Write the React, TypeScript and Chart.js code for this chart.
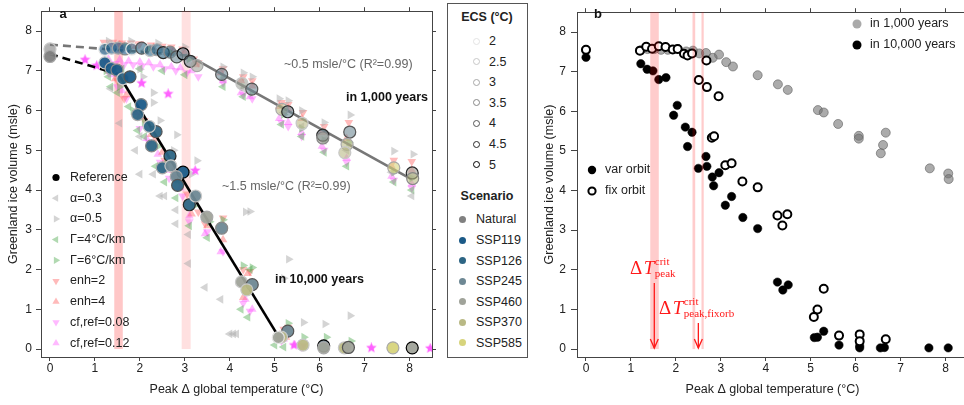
import React, { useEffect, useRef } from 'react';
import { Chart, registerables } from 'chart.js';

Chart.register(...registerables);

const FONT = '"Liberation Sans", Arial, Helvetica, sans-serif';
const SERIF = '"Liberation Serif", "DejaVu Serif", serif';

// ---------- axes ----------
const X_TICKS = [0, 1, 2, 3, 4, 5, 6, 7, 8];
const Y_TICKS = [0, 1, 2, 3, 4, 5, 6, 7, 8];
const X_TITLE = 'Peak Δ global temperature (°C)';
const Y_TITLE = 'Greenland ice volume (msle)';

// ---------- legend categories ----------
const SCENARIOS = ['Natural', 'SSP119', 'SSP126', 'SSP245', 'SSP460', 'SSP370', 'SSP585'];
const SCENARIO_COLORS = ['#808080', '#1b5a87', '#2d6584', '#6e8894', '#a0a39a', '#b9b985', '#d7d47c'];
const ECS_VALUES = ['2', '2.5', '3', '3.5', '4', '4.5', '5'];
const ECS_EDGE_COLORS = ['#e4e4e4', '#c8c8c8', '#a8a8a8', '#888888', '#555555', '#2a2a2a', '#000000'];
const SENS_LABELS = ['Reference', 'α=0.3', 'α=0.5', 'Γ=4°C/km', 'Γ=6°C/km', 'enh=2', 'enh=4', 'cf,ref=0.08', 'cf,ref=0.12'];

// ---------- reference runs: [peak warming, ice volume, scenario idx, ECS idx] ----------
const RUNS_1000Y: [number, number, number, number][] = [
  [0, 7.55, 0, 1], [1.22, 7.54, 1, 0], [1.37, 7.57, 1, 1], [1.52, 7.57, 1, 2], [1.67, 7.55, 1, 3],
  [1.82, 7.55, 2, 0], [2.04, 7.57, 2, 4], [2.23, 7.51, 2, 1], [2.38, 7.53, 2, 2], [2.52, 7.46, 2, 5],
  [2.67, 7.47, 2, 3], [2.82, 7.35, 3, 4], [2.96, 7.43, 3, 6], [3.12, 7.24, 3, 5], [3.27, 7.13, 4, 2],
  [3.82, 6.91, 3, 4], [4.27, 6.68, 4, 1], [4.49, 6.54, 3, 4], [5.16, 6.03, 5, 2], [5.29, 5.97, 3, 5],
  [5.61, 5.68, 5, 1], [6.07, 5.38, 3, 5], [6.07, 5.31, 4, 3], [6.67, 5.46, 3, 4], [6.61, 5.15, 5, 2],
  [6.56, 4.94, 5, 1], [7.65, 4.56, 6, 2], [8.06, 4.43, 4, 5], [8.07, 4.29, 5, 3],
];
const RUNS_10000Y: [number, number, number, number][] = [
  [0, 7.36, 0, 2], [1.22, 7.20, 1, 1], [1.36, 7.06, 1, 2], [1.49, 7.02, 1, 3], [1.62, 6.80, 2, 1],
  [1.78, 6.85, 1, 4], [2.03, 6.15, 1, 3], [1.95, 5.90, 2, 2], [2.36, 5.47, 2, 4], [2.21, 5.60, 2, 1],
  [2.26, 5.11, 2, 3], [2.67, 4.86, 2, 5], [2.50, 4.56, 2, 2], [2.69, 4.61, 3, 1], [2.96, 4.45, 1, 6],
  [2.81, 4.34, 3, 2], [2.84, 4.12, 2, 4], [3.10, 3.63, 2, 5], [3.24, 3.85, 3, 1], [3.49, 3.32, 4, 2],
  [3.82, 3.04, 3, 3], [4.26, 1.69, 4, 1], [4.50, 1.62, 3, 4], [4.38, 1.49, 5, 1], [5.29, 0.45, 3, 4],
  [5.15, 0.30, 5, 1], [5.08, 0.29, 4, 0], [5.63, 0.10, 5, 1], [6.09, 0.08, 3, 6], [6.09, 0.03, 4, 2],
  [6.55, 0.03, 5, 1], [6.64, 0.04, 4, 4], [7.63, 0.03, 6, 2], [8.06, 0.03, 4, 6],
];
// fixed-orbit runs after 10,000 years (panel b)
const FIXORB_10000Y: [number, number][] = [
  [0, 7.55], [1.20, 7.53], [1.34, 7.63], [1.47, 7.58], [1.62, 7.64], [1.77, 7.62], [1.93, 7.56],
  [2.04, 7.57], [2.18, 7.45], [2.26, 7.41], [2.36, 7.46], [2.68, 7.28], [2.51, 6.79], [2.69, 6.61],
  [2.95, 6.38], [2.80, 5.33], [2.85, 5.37], [3.10, 4.64], [3.24, 4.69], [3.48, 4.23], [3.82, 4.08],
  [4.26, 3.37], [4.48, 3.40], [4.37, 3.12], [5.29, 1.52], [5.15, 1.00], [5.07, 0.81], [5.63, 0.34],
  [6.09, 0.37], [6.09, 0.20], [6.67, 0.25],
];

// ---------- sensitivity experiments (panel a) ----------
const ALPHA_03: [number, number][] = [
  [1.35, 6.55], [1.55, 5.68], [2.0, 5.35], [2.0, 4.4], [2.45, 3.85], [2.55, 3.85], [2.8, 3.5], [2.8, 3.15],
  [3.08, 2.88], [3.08, 2.15], [3.45, 1.55], [3.8, 1.25], [4.0, 0.38], [4.08, 0.38], [4.15, 0.38], [1.9, 5.0],
  [2.3, 4.4], [1.2, 7.5], [1.6, 7.55], [2.1, 7.5], [2.6, 7.42], [3.0, 7.35], [3.85, 6.8], [4.3, 6.55],
  [5.2, 5.95], [5.6, 5.6], [6.1, 5.25], [6.6, 5.0], [7.6, 4.45], [8.05, 3.85],
];
const ALPHA_05: [number, number][] = [
  [2.0, 7.04], [2.07, 6.85], [2.3, 6.45], [2.3, 6.2], [2.45, 5.75], [2.82, 5.39], [2.75, 5.0], [3.27, 4.74],
  [3.15, 4.4], [4.35, 3.45], [4.45, 3.46], [5.31, 2.26], [5.2, 1.78], [5.64, 0.67], [6.12, 0.63], [6.68, 0.84],
  [1.3, 7.75], [1.8, 7.75], [2.4, 7.7], [3.0, 7.6], [3.85, 7.1], [4.3, 6.95], [4.5, 6.85], [5.1, 6.3],
  [5.3, 6.25], [5.6, 6.0], [6.1, 5.7], [6.68, 5.89], [7.65, 4.98], [8.08, 4.9],
];
const GAMMA_4: [number, number][] = [
  [1.3, 6.85], [1.35, 6.6], [1.5, 6.45], [1.75, 6.1], [1.95, 5.5], [2.1, 5.35], [2.35, 4.6], [2.55, 4.2],
  [2.8, 3.8], [3.1, 3.1], [3.5, 2.8], [4.25, 1.0], [4.4, 0.8], [4.45, 2.0], [5.0, 0.1], [5.2, 0.05],
  [1.3, 7.0], [1.6, 7.05], [2.0, 7.05], [2.5, 7.0], [3.0, 6.9], [3.85, 6.6], [4.3, 6.35], [5.15, 5.65],
  [5.6, 5.35], [6.1, 4.95], [6.6, 4.6], [7.65, 4.2], [8.05, 4.0],
];
const GAMMA_6: [number, number][] = [
  [1.25, 7.0], [1.55, 6.6], [1.85, 6.0], [2.1, 5.7], [2.4, 5.1], [2.6, 4.7], [2.9, 4.25], [3.2, 3.6],
  [3.55, 3.2], [3.85, 3.25], [4.3, 2.1], [4.5, 2.05], [5.3, 0.65], [5.65, 0.3], [6.15, 0.3], [6.7, 0.2],
  [1.25, 7.6], [1.7, 7.6], [2.2, 7.55], [2.7, 7.45], [3.1, 7.3], [3.85, 6.85], [4.3, 6.6], [4.5, 6.45],
  [5.2, 5.9], [5.6, 5.55], [6.1, 5.25], [6.65, 5.2], [7.65, 4.45], [8.05, 4.3],
];
const ENH_2: [number, number][] = [
  [1.25, 7.05], [1.5, 6.75], [1.65, 6.3], [2.1, 5.75], [2.35, 5.3], [2.55, 4.75], [2.8, 4.35], [3.05, 3.9],
  [3.3, 3.45], [3.45, 3.15], [3.85, 3.3], [4.3, 2.0], [4.45, 1.95], [5.3, 0.55], [5.2, 0.5], [5.65, 0.1],
  [6.1, 0.05], [6.6, 0.03], [1.2, 7.72], [1.4, 7.72], [1.6, 7.7], [1.8, 7.7], [2.0, 7.68], [2.25, 7.65],
  [2.5, 7.62], [2.7, 7.6], [2.95, 7.55], [3.2, 7.3], [3.3, 7.2], [3.85, 7.05], [4.3, 6.85], [4.5, 6.75],
  [5.15, 6.2], [5.3, 6.15], [5.63, 5.95], [6.1, 5.6], [6.65, 5.7], [7.65, 4.75], [8.05, 4.72],
];
const ENH_4: [number, number][] = [
  [1.45, 6.8], [1.7, 6.4], [2.0, 5.85], [2.25, 5.4], [2.5, 4.95], [2.75, 4.5], [2.95, 4.2], [3.15, 3.4],
  [3.5, 3.1], [3.85, 2.75], [4.3, 1.3], [4.4, 1.9], [5.25, 0.3], [5.1, 0.35], [1.3, 7.65], [1.55, 7.65],
  [1.9, 7.62], [2.3, 7.58], [2.75, 7.5], [3.0, 7.45], [3.25, 7.15], [3.8, 6.95], [4.25, 6.75], [4.5, 6.62],
  [5.1, 6.1], [5.3, 6.05], [5.6, 5.8], [6.05, 5.45], [6.6, 5.3], [7.6, 4.6], [8.05, 4.5],
];
const CF_008: [number, number][] = [
  [1.3, 6.95], [1.5, 6.6], [1.7, 6.3], [2.0, 5.55], [2.2, 5.2], [2.45, 4.7], [2.65, 4.3], [2.95, 3.85],
  [3.1, 3.2], [3.5, 2.95], [3.85, 2.45], [4.3, 1.15], [4.45, 0.95], [5.15, 0.2], [5.6, 0.05], [1.25, 7.2],
  [1.45, 7.18], [1.65, 7.15], [1.85, 7.15], [2.05, 7.12], [2.3, 7.1], [2.55, 7.05], [2.8, 7.0], [3.05, 6.95],
  [3.3, 6.85], [3.85, 6.7], [4.3, 6.4], [4.5, 6.3], [5.15, 5.7], [5.3, 5.6], [5.6, 5.35], [6.1, 5.0],
  [6.6, 4.7], [7.65, 4.25], [8.05, 4.05],
];
const CF_012: [number, number][] = [
  [1.4, 6.9], [1.6, 6.5], [1.9, 5.95], [2.15, 5.3], [2.4, 4.9], [2.6, 4.5], [2.9, 4.05], [3.1, 3.35],
  [3.45, 2.9], [3.8, 2.45], [4.35, 1.25], [4.5, 1.0], [5.2, 0.25], [5.45, 0.1], [1.3, 7.3], [1.55, 7.28],
  [1.75, 7.25], [2.0, 7.22], [2.2, 7.2], [2.45, 7.15], [2.7, 7.1], [2.9, 7.08], [3.15, 7.0], [3.85, 6.75],
  [4.25, 6.45], [4.45, 6.35], [5.1, 5.8], [5.3, 5.7], [5.6, 5.45], [6.05, 5.1], [6.6, 4.8], [7.6, 4.35],
  [8.05, 4.15],
];
const STAR_RUNS: [number, number][] = [
  [0.78, 7.28], [1.04, 7.13], [2.04, 6.69], [2.63, 6.42], [3.23, 4.49], [5.43, 0.10], [7.15, 0.03], [8.46, 0.02],
];

// ---------- fits & thresholds ----------
const FIT_1000Y_DASHED: [number, number][] = [[0, 7.66], [3.08, 7.38]];
const FIT_1000Y_SOLID: [number, number][] = [[3.08, 7.38], [8.05, 4.27]];
const FIT_10000Y_DASHED: [number, number][] = [[0, 7.42], [1.52, 6.92]];
const FIT_10000Y_SOLID: [number, number][] = [[1.52, 6.92], [5.12, 0.25]];
const BANDS_A: [number, number][] = [[1.43, 1.62], [2.93, 3.13]];
const BANDS_B: [number, number][] = [[1.43, 1.62], [2.37, 2.43], [2.57, 2.62]];
const CRIT_ARROWS: [number, number][] = [[1.52, 1.67], [2.5, 0.66]];

// ---------- helpers ----------
const pts = (arr: [number, number][]) => arr.map(([x, y]) => ({ x, y }));
const hexA = (hex: string, a: number) => {
  const n = parseInt(hex.slice(1), 16);
  return `rgba(${n >> 16},${(n >> 8) & 255},${n & 255},${a})`;
};

const GRAY_T = 'rgba(170,170,170,0.5)';
const GREEN_T = 'rgba(70,165,70,0.42)';
const RED_T = 'rgba(255,90,90,0.42)';
const MAG_T = 'rgba(255,70,255,0.38)';

function makeStar(size: number, color: string) {
  const c = document.createElement('canvas');
  c.width = size; c.height = size;
  const ctx = c.getContext('2d')!;
  ctx.fillStyle = color;
  ctx.beginPath();
  const R = size / 2, r = R * 0.45;
  for (let i = 0; i < 10; i++) {
    const ang = -Math.PI / 2 + (i * Math.PI) / 5;
    const rad = i % 2 ? r : R;
    ctx.lineTo(R + Math.cos(ang) * rad, R + Math.sin(ang) * rad);
  }
  ctx.closePath();
  ctx.fill();
  return c;
}

function tri(ctx: CanvasRenderingContext2D, x: number, y: number, r: number, rotDeg: number, color: string) {
  const a = (rotDeg * Math.PI) / 180;
  ctx.beginPath();
  for (let k = 0; k < 3; k++) {
    const t = a + (k * 2 * Math.PI) / 3;
    ctx.lineTo(x + Math.sin(t) * r, y - Math.cos(t) * r);
  }
  ctx.closePath();
  ctx.fillStyle = color;
  ctx.fill();
}

function makeScales(yWidth: number, yTickLen: number, yPad: number, yTitlePad: number) {
  const setX = (s: any) => { s.ticks = X_TICKS.map((v) => ({ value: v })); };
  const setY = (s: any) => { s.ticks = Y_TICKS.map((v) => ({ value: v })); };
  const grid = { drawOnChartArea: false, color: '#444', tickColor: '#444', lineWidth: 1 };
  const border = { display: true, color: '#444', width: 1 };
  const tickFont = { family: FONT, size: 12 };
  return {
    x: {
      type: 'linear', position: 'bottom', min: -0.2, max: 8.5,
      afterBuildTicks: setX, afterFit: (s: any) => { s.height = 48; },
      grid: { ...grid, tickLength: 4 }, border,
      ticks: { color: '#222', font: tickFont, padding: 0, maxRotation: 0, autoSkip: false },
      title: { display: true, text: X_TITLE, color: '#222', font: { family: FONT, size: 12.5 }, padding: { top: 0, bottom: 8 } },
    },
    xTop: {
      type: 'linear', position: 'top', min: -0.2, max: 8.5,
      afterBuildTicks: setX, afterFit: (s: any) => { s.height = 4; },
      grid: { ...grid, tickLength: 4 }, border, ticks: { display: false },
    },
    y: {
      type: 'linear', position: 'left', min: -0.2, max: 8.5,
      afterBuildTicks: setY, afterFit: (s: any) => { s.width = yWidth; },
      grid: { ...grid, tickLength: yTickLen }, border,
      ticks: { color: '#222', font: tickFont, padding: yPad },
      title: { display: true, text: Y_TITLE, color: '#222', font: { family: FONT, size: 12.5 }, padding: { top: yTitlePad, bottom: 0 } },
    },
    yRight: {
      type: 'linear', position: 'right', min: -0.2, max: 8.5,
      afterBuildTicks: setY, afterFit: (s: any) => { s.width = 8; },
      grid: { ...grid, tickLength: 4 }, border, ticks: { display: false },
    },
  };
}

const text = (ctx: CanvasRenderingContext2D, s: string, x: number, y: number, font: string, color: string, align: CanvasTextAlign = 'left') => {
  ctx.font = font;
  ctx.fillStyle = color;
  ctx.textAlign = align;
  ctx.textBaseline = 'middle';
  ctx.fillText(s, x, y);
};

// ---------- panel a ----------
function PanelA() {
  const ref = useRef<HTMLCanvasElement>(null);
  useEffect(() => {
    const star = makeStar(11, 'rgba(255,80,255,0.9)');
    const sens = [
      { data: ALPHA_03, color: GRAY_T, rot: 270 },
      { data: ALPHA_05, color: GRAY_T, rot: 90 },
      { data: GAMMA_4, color: GREEN_T, rot: 270 },
      { data: GAMMA_6, color: GREEN_T, rot: 90 },
      { data: ENH_2, color: RED_T, rot: 180 },
      { data: ENH_4, color: RED_T, rot: 0 },
      { data: CF_008, color: MAG_T, rot: 180 },
      { data: CF_012, color: MAG_T, rot: 0 },
    ];
    const circles = (runs: [number, number, number, number][], alpha: number, order: number) => ({
      data: runs.map((r) => ({ x: r[0], y: r[1] })),
      pointBackgroundColor: runs.map((r) => hexA(SCENARIO_COLORS[r[2]], alpha)),
      pointBorderColor: runs.map((r) => ECS_EDGE_COLORS[r[3]]),
      pointBorderWidth: 1.2, pointRadius: 6, order,
    });
    const line = (d: [number, number][], color: string, dash: number[], order: number) => ({
      data: pts(d), showLine: true, pointRadius: 0, borderColor: color, borderWidth: 2.6, borderDash: dash, order,
    });
    const datasets: any[] = [
      circles(RUNS_10000Y, 0.95, 1),
      circles(RUNS_1000Y, 0.6, 2),
      line(FIT_10000Y_SOLID, '#000', [], 3),
      line(FIT_10000Y_DASHED, '#000', [8, 5], 3),
      line(FIT_1000Y_SOLID, '#777', [], 3),
      line(FIT_1000Y_DASHED, '#777', [8, 5], 3),
      { data: pts(STAR_RUNS), pointStyle: star, pointRadius: 5, order: 4 },
      ...sens.map((s, i) => ({
        data: pts(s.data), pointStyle: 'triangle', pointRotation: s.rot, pointRadius: 5,
        pointBackgroundColor: s.color, pointBorderColor: 'rgba(0,0,0,0)', pointBorderWidth: 0, order: 5 + i,
      })),
    ];

    const plugin = {
      id: 'panelA',
      beforeDatasetsDraw(chart: any) {
        const { ctx, chartArea: ca, scales } = chart;
        const alphas = [0.22, 0.12];
        ctx.save();
        BANDS_A.forEach(([a, b], i) => {
          const x0 = scales.x.getPixelForValue(a), x1 = scales.x.getPixelForValue(b);
          const y0 = scales.y.getPixelForValue(0);
          ctx.fillStyle = `rgba(255,0,0,${alphas[i]})`;
          ctx.fillRect(x0, ca.top, x1 - x0, y0 - ca.top);
        });
        ctx.restore();
      },
      afterDraw(chart: any) {
        const { ctx } = chart;
        ctx.save();
        text(ctx, 'a', 63, 14, `bold 13px ${FONT}`, '#111', 'center');
        text(ctx, '~0.5 msle/°C (R²=0.99)', 284, 65, `12.5px ${FONT}`, '#666');
        text(ctx, 'in 1,000 years', 428, 98, `bold 12.5px ${FONT}`, '#111', 'right');
        text(ctx, '~1.5 msle/°C (R²=0.99)', 222, 187, `12.5px ${FONT}`, '#666');
        text(ctx, 'in 10,000 years', 275, 280, `bold 12.5px ${FONT}`, '#111');
        // legend
        const mx = 56, tx = 70, y0 = 177.5, step = 20.7;
        const markers = [null, [GRAY_T, 270], [GRAY_T, 90], [GREEN_T, 270], [GREEN_T, 90], [RED_T, 180], [RED_T, 0], [MAG_T, 180], [MAG_T, 0]] as any[];
        SENS_LABELS.forEach((lab, i) => {
          const y = y0 + i * step;
          if (i === 0) {
            ctx.beginPath(); ctx.arc(mx, y, 3.6, 0, Math.PI * 2); ctx.fillStyle = '#000'; ctx.fill();
          } else {
            tri(ctx, mx, y, 4.2, markers[i][1], markers[i][0]);
          }
          text(ctx, lab, tx, y, `12.5px ${FONT}`, '#222');
        });
        ctx.restore();
      },
    };

    const chart = new Chart(ref.current!, {
      type: 'scatter',
      data: { datasets },
      options: {
        animation: false, responsive: false, maintainAspectRatio: false, events: [],
        layout: { padding: 0 },
        plugins: { legend: { display: false }, tooltip: { enabled: false } },
        scales: makeScales(41, 5, 4, 6.5) as any,
      },
      plugins: [plugin],
    });
    return () => chart.destroy();
  }, []);
  return <canvas ref={ref} width={440} height={405} style={{ position: 'absolute', left: 0, top: 0, width: 440, height: 405 }} />;
}

// ---------- panel b ----------
function PanelB() {
  const ref = useRef<HTMLCanvasElement>(null);
  useEffect(() => {
    const datasets: any[] = [
      {
        data: pts(FIXORB_10000Y), pointRadius: 4, pointBorderWidth: 2,
        pointBackgroundColor: '#fff', pointBorderColor: '#000', order: 1,
      },
      {
        data: RUNS_10000Y.map((r) => ({ x: r[0], y: r[1] })), pointRadius: 4.2, pointBorderWidth: 0.5,
        pointBackgroundColor: '#000', pointBorderColor: '#000', order: 2,
      },
      {
        data: RUNS_1000Y.map((r) => ({ x: r[0], y: r[1] })), pointRadius: 4.5, pointBorderWidth: 1,
        pointBackgroundColor: 'rgba(115,115,115,0.6)', pointBorderColor: 'rgba(95,95,95,0.6)', order: 3,
      },
    ];
    const plugin = {
      id: 'panelB',
      afterDatasetsDraw(chart: any) {
        const { ctx, chartArea: ca, scales } = chart;
        ctx.save();
        BANDS_B.forEach(([a, b]) => {
          const x0 = scales.x.getPixelForValue(a), x1 = scales.x.getPixelForValue(b);
          const y0 = scales.y.getPixelForValue(0);
          ctx.fillStyle = 'rgba(255,0,0,0.2)';
          ctx.fillRect(x0, ca.top, x1 - x0, y0 - ca.top);
        });
        ctx.restore();
      },
      afterDraw(chart: any) {
        const { ctx, scales } = chart;
        ctx.save();
        text(ctx, 'b', 66, 14, `bold 13px ${FONT}`, '#111', 'center');
        // legend top right
        ctx.beginPath(); ctx.arc(325, 24, 4.5, 0, Math.PI * 2); ctx.fillStyle = '#aaaaaa'; ctx.fill();
        text(ctx, 'in 1,000 years', 338, 24, `12.5px ${FONT}`, '#222');
        ctx.beginPath(); ctx.arc(325, 45, 4.5, 0, Math.PI * 2); ctx.fillStyle = '#000'; ctx.fill();
        text(ctx, 'in 10,000 years', 338, 45, `12.5px ${FONT}`, '#222');
        // legend left
        ctx.beginPath(); ctx.arc(60, 170, 4.2, 0, Math.PI * 2); ctx.fillStyle = '#000'; ctx.fill();
        text(ctx, 'var orbit', 73, 170, `12.5px ${FONT}`, '#222');
        ctx.beginPath(); ctx.arc(60, 191, 3.6, 0, Math.PI * 2); ctx.lineWidth = 2; ctx.strokeStyle = '#000'; ctx.stroke();
        text(ctx, 'fix orbit', 73, 191, `12.5px ${FONT}`, '#222');

        // arrows
        const red = '#ff1a1a';
        ctx.strokeStyle = red; ctx.lineWidth = 1.3;
        CRIT_ARROWS.forEach(([xv, yv]) => {
          const x = scales.x.getPixelForValue(xv);
          const yTop = scales.y.getPixelForValue(yv);
          const yBot = scales.y.getPixelForValue(0) - 1;
          ctx.beginPath(); ctx.moveTo(x, yTop); ctx.lineTo(x, yBot); ctx.stroke();
          ctx.beginPath(); ctx.moveTo(x - 4, yBot - 9); ctx.lineTo(x, yBot); ctx.lineTo(x + 4, yBot - 9); ctx.stroke();
        });
        // math labels
        const mathLabel = (x0: number, base: number, sub: string) => {
          ctx.textAlign = 'left'; ctx.textBaseline = 'alphabetic'; ctx.fillStyle = red;
          ctx.font = `19px ${SERIF}`;
          ctx.fillText('Δ', x0, base);
          const w1 = ctx.measureText('Δ').width;
          ctx.font = `italic 19px ${SERIF}`;
          ctx.fillText('T', x0 + w1 + 1.5, base);
          const w2 = ctx.measureText('T').width;
          const sx = x0 + w1 + 1.5 + w2 + 0.5;
          ctx.font = `11px ${SERIF}`;
          ctx.fillText('crit', sx, base - 9);
          ctx.fillText(sub, sx, base + 3);
        };
        mathLabel(630 - 532, 274, 'peak');
        mathLabel(659 - 532, 314, 'peak,fixorb');
        ctx.restore();
      },
    };
    const chart = new Chart(ref.current!, {
      type: 'scatter',
      data: { datasets },
      options: {
        animation: false, responsive: false, maintainAspectRatio: false, events: [],
        layout: { padding: 0 },
        plugins: { legend: { display: false }, tooltip: { enabled: false } },
        scales: makeScales(45, 6, 5, 10) as any,
      },
      plugins: [plugin],
    });
    return () => chart.destroy();
  }, []);
  return <canvas ref={ref} width={444} height={405} style={{ position: 'absolute', left: 532, top: 0, width: 444, height: 405 }} />;
}

// ---------- middle legend ----------
function MiddleLegend() {
  const L = 448, T = 4;
  const lh = 16;
  const ecsY = [41, 61.7, 82.3, 102.7, 123.3, 144, 164.7];
  const scY = [219, 240, 260.7, 281, 301.7, 322.3, 342.7];
  const txt = (s: string, x: number, y: number, bold = false, center = false) => (
    <div key={s + y} style={{
      position: 'absolute', left: center ? 0 : x - L, width: center ? 78 : undefined, top: y - T - lh / 2,
      lineHeight: `${lh}px`, whiteSpace: 'nowrap', textAlign: center ? 'center' : 'left', fontWeight: bold ? 'bold' : 'normal',
    }}>{s}</div>
  );
  return (
    <div style={{
      position: 'absolute', left: 447, top: 3, width: 81, height: 355, border: '1px solid #555', boxSizing: 'border-box',
      fontFamily: FONT, fontSize: 12.5, color: '#222', background: '#fff',
    }}>
      {txt('ECS (°C)', 0, 17, true, true)}
      {ECS_VALUES.map((v, i) => (
        <React.Fragment key={'e' + v}>
          <div style={{
            position: 'absolute', left: 476 - L - 3.5, top: ecsY[i] - T - 3.5, width: 7, height: 7, borderRadius: '50%',
            border: `1.3px solid ${ECS_EDGE_COLORS[i]}`, boxSizing: 'border-box',
          }} />
          {txt(v, 489, ecsY[i])}
        </React.Fragment>
      ))}
      {txt('Scenario', 0, 196, true, true)}
      {SCENARIOS.map((s, i) => (
        <React.Fragment key={s}>
          <div style={{
            position: 'absolute', left: 462 - L - 3.5, top: scY[i] - T - 3.5, width: 7, height: 7, borderRadius: '50%',
            background: SCENARIO_COLORS[i],
          }} />
          {txt(s, 476, scY[i])}
        </React.Fragment>
      ))}
    </div>
  );
}

export default function App() {
  return (
    <div style={{ position: 'fixed', left: 0, top: 0, width: 964, height: 405, overflow: 'hidden', background: '#fff' }}>
      <PanelA />
      <MiddleLegend />
      <PanelB />
    </div>
  );
}
